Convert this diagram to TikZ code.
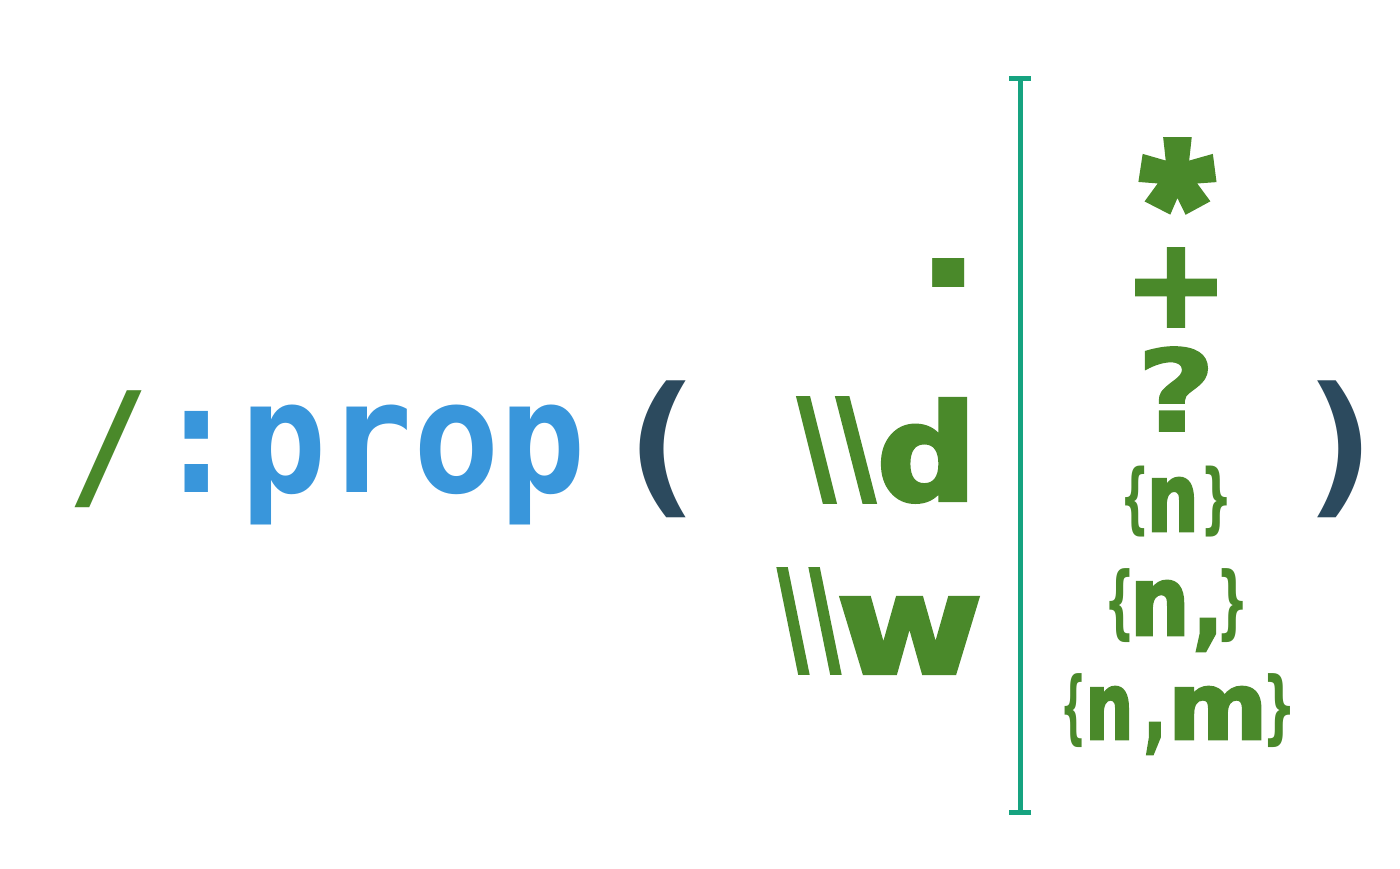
\documentclass[tikz,border=0pt]{standalone}
\usepackage{fontspec}
\usepackage{graphicx}
\usetikzlibrary{arrows.meta}
\newfontfamily\monob{DejaVu Sans Mono Bold}
\newfontfamily\sansf{DejaVu Sans Bold}[FakeBold=3]
\newfontfamily\sansm{DejaVu Sans Bold}[FakeBold=1.5]
\newfontfamily\sansb{DejaVu Sans Bold}
\newfontfamily\astf{Open Sans}[FakeBold=7,BoldFeatures={FakeBold=7}]
\definecolor{grn}{RGB}{74,137,42}
\definecolor{blu}{RGB}{57,150,219}
\definecolor{drk}{RGB}{44,74,94}
\definecolor{tealline}{RGB}{22,163,128}
% trim outer side bearings so the box equals the ink
\newcommand\inktrim[3]{\kern-\XeTeXglyphbounds1 \XeTeXcharglyph#1\relax #2\kern-\XeTeXglyphbounds3 \XeTeXcharglyph#3\relax}
\newbox\pcb
\newdimen\pcd
% one glyph, scaled so that its ink is #2 x #3, ink bottom on the baseline, raised by #1
\newcommand\pc[4][0pt]{\setbox\pcb\hbox{\inktrim{#4}{\char#4\relax}{#4}}\pcd=\XeTeXglyphbounds4 \XeTeXcharglyph#4\relax\setbox\pcb\hbox{\raise\pcd\box\pcb}\dp\pcb=0pt\raisebox{#1}{\resizebox*{#2}{#3}{\box\pcb}}}
% the same in the plain (not emboldened) face
\newcommand\pcn[4][0pt]{{\sansb\fontsize{100}{100}\selectfont\pc[#1]{#2}{#3}{#4}}}
\tikzset{
  ink/.style={inner sep=0pt, outer sep=0pt, anchor=base west},
  inknw/.style={inner sep=0pt, outer sep=0pt, anchor=north west},
  mono/.style={font=\monob\fontsize{100}{100}\selectfont},
  sans/.style={font=\sansf\fontsize{100}{100}\selectfont},
  sansmid/.style={font=\sansm\fontsize{100}{100}\selectfont},
  astr/.style={font=\astf\bfseries\fontsize{100}{100}\selectfont},
}
\begin{document}
\begin{tikzpicture}[x=1pt,y=-1pt]
\fill[white] (0,0) rectangle (1400,869);
\useasboundingbox (0,0) rectangle (1400,869);
% left part
\node[ink,mono,text=grn] (slash) at (75,508) {\pc{67pt}{117pt}{`/}};
\node[inknw,mono,text=blu] (prop) at (185,405) {\resizebox*{395pt}{120pt}{\inktrim{`:}{:prop}{`p}}};
\node[ink,mono,text=drk] (lpar) at (640,518) {\pc{46pt}{137pt}{`(}};
\node[ink,mono,text=drk] (rpar) at (1318,518) {\pc{44pt}{137pt}{`)}};
% alternatives
\node[ink,mono,text=grn] (dot) at (933,287) {\pc{32pt}{29pt}{`.}};
\node[ink,sans,text=grn] (bsd) at (798,502) {\pc{37pt}{104pt}{92}\kern2pt\pc{38pt}{104pt}{92}\kern8pt\pc{82pt}{103pt}{`d}};
\node[ink,sans,text=grn] (bsw) at (778,673) {\pc{30pt}{104pt}{92}\kern2pt\pc{30pt}{104pt}{92}\kern2pt\pc{135pt}{75pt}{`w}};
% separator
\coordinate (top) at (1020,76);
\coordinate (bot) at (1020,815);
\draw[tealline, line width=5pt, {Bar[width=22pt]}-{Bar[width=22pt]}] (top) -- (bot);
% quantifiers
\node[ink,astr,text=grn] (star) at (1144,208) {\pc{67pt}{66pt}{`*}};
\node[ink,sans,text=grn] (plus) at (1137,326) {\pc{78pt}{77pt}{`+}};
\node[ink,sansmid,text=grn] (qm) at (1146,431) {\pc{61pt}{84pt}{`?}};
\node[ink,sans,text=grn] (qn) at (1126,537) {\pcn{19pt}{71pt}{`\{}\kern8pt\pc[6pt]{40pt}{53pt}{`n}\kern13pt\pcn{21pt}{71pt}{`\}}};
\node[ink,sans,text=grn] (qnc) at (1110,643) {\pcn{20pt}{74pt}{`\{}\kern7pt\pc[8pt]{46pt}{54pt}{`n}\kern14pt\pc[-8pt]{18pt}{32pt}{`,}\kern7pt\pcn{21pt}{74pt}{`\}}};
\node[ink,sans,text=grn] (qnm) at (1065,748) {\pcn{17pt}{74pt}{`\{}\kern9pt\pc[9pt]{37pt}{52pt}{`n}\kern19pt\pc[-6pt]{13pt}{31pt}{`,}\kern16pt\pc[9pt]{84pt}{52pt}{`m}\kern8pt\pcn{22pt}{74pt}{`\}}};
\end{tikzpicture}
\end{document}
